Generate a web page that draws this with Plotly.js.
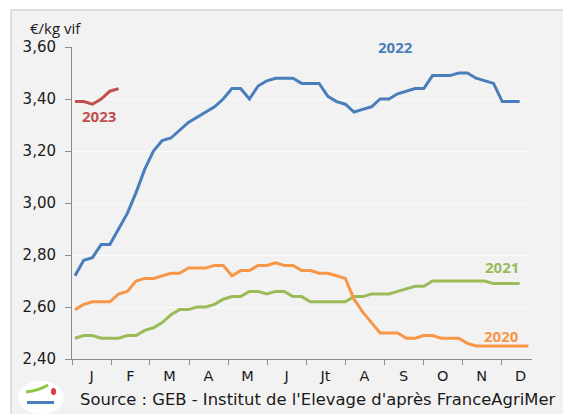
<!DOCTYPE html>
<html>
<head>
<meta charset="utf-8">
<script src="https://cdn.plot.ly/plotly-3.0.1.min.js"></script>
<style>html,body{margin:0;padding:0;background:#fff;}#chart{width:563px;height:414px;}</style>
</head>
<body>
<div id="chart"></div>
<script>
// Weekly live-weight prices (€/kg vif)
const s2020 = [2.59,2.61,2.62,2.62,2.62,2.65,2.66,2.70,2.71,2.71,
               2.72,2.73,2.73,2.75,2.75,2.75,2.76,2.76,2.72,2.74,
               2.74,2.76,2.76,2.77,2.76,2.76,2.74,2.74,2.73,2.73,
               2.72,2.71,2.63,2.58,2.54,2.50,2.50,2.50,2.48,2.48,
               2.49,2.49,2.48,2.48,2.48,2.46,2.45,2.45,2.45,2.45,
               2.45,2.45,2.45];
const s2021 = [2.48,2.49,2.49,2.48,2.48,2.48,2.49,2.49,2.51,2.52,
               2.54,2.57,2.59,2.59,2.60,2.60,2.61,2.63,2.64,2.64,
               2.66,2.66,2.65,2.66,2.66,2.64,2.64,2.62,2.62,2.62,
               2.62,2.62,2.64,2.64,2.65,2.65,2.65,2.66,2.67,2.68,
               2.68,2.70,2.70,2.70,2.70,2.70,2.70,2.70,2.69,2.69,
               2.69,2.69];
const s2022 = [2.72,2.78,2.79,2.84,2.84,2.90,2.96,3.04,3.13,3.20,
               3.24,3.25,3.28,3.31,3.33,3.35,3.37,3.40,3.44,3.44,
               3.40,3.45,3.47,3.48,3.48,3.48,3.46,3.46,3.46,3.41,
               3.39,3.38,3.35,3.36,3.37,3.40,3.40,3.42,3.43,3.44,
               3.44,3.49,3.49,3.49,3.50,3.50,3.48,3.47,3.46,3.39,
               3.39,3.39];
const s2023 = [3.39,3.39,3.38,3.40,3.43,3.44];

const monthLabels = ['J','F','M','A','M','J','Jt','A','S','O','N','D'];
const monthStarts = [0.66,5.13,9.60,14.08,18.55,23.02,27.50,31.97,36.45,40.92,45.40,49.87];
const monthWidth = 4.475;
const yTicks = [2.40,2.60,2.80,3.00,3.20,3.40,3.60];

const weeks = arr => arr.map((v,i)=>i+1);
const mk = (y,color,name) => ({x:weeks(y), y:y, type:'scatter', mode:'lines', name:name,
  line:{color:color,width:3}, hoverinfo:'skip'});

const C2020='#F79646', C2021='#9BBB59', C2022='#4A7EBB', C2023='#C0504D';
const traces = [mk(s2021,C2021,'2021'), mk(s2020,C2020,'2020'), mk(s2022,C2022,'2022'), mk(s2023,C2023,'2023')];

const FONT = 'DejaVu Sans, sans-serif';
const FONT2 = 'Open Sans, sans-serif';
const px = x => (x-72)/460, py = y => (359-y)/312;
const layout = {
  width:563, height:414,
  margin:{l:72, r:31, t:47, b:55, pad:0},
  paper_bgcolor:'#ffffff',
  plot_bgcolor:'rgba(0,0,0,0)',
  separators:', ',
  showlegend:false,
  font:{family:FONT, size:15, color:'#1a1a1a'},
  xaxis:{
    range:[0.656,53.41], showline:true, linecolor:'#8c8c8c', linewidth:1,
    tickvals: monthStarts.map(s=>s+monthWidth/2), ticktext: monthLabels,
    ticks:'', showgrid:false, zeroline:false, ticklabelstandoff:4,
    tickfont:{family:FONT,size:14.5,color:'#1a1a1a'},
    minor:{tickvals:monthStarts, ticks:'outside', ticklen:5, tickcolor:'#8c8c8c', tickwidth:1, showgrid:false}
  },
  yaxis:{
    range:[2.40,3.60], tickvals:yTicks, tickformat:'.2f',
    ticks:'outside', ticklen:6, tickcolor:'#8c8c8c', tickwidth:1,
    showline:true, linecolor:'#8c8c8c', linewidth:1,
    showgrid:true, gridcolor:'#fbfbfb', gridwidth:1, zeroline:false,
    ticklabelstandoff:6,
    tickfont:{family:FONT,size:15,color:'#1a1a1a'}
  },
  shapes:[
    {type:'rect', xref:'paper', yref:'paper', x0:px(11), x1:1.2, y0:-0.3, y1:py(10),
     fillcolor:'#f2f2f2', line:{color:'#d4d4d4', width:1.5}, layer:'below'},
    {type:'circle', xref:'paper', yref:'paper', x0:px(18), x1:px(64), y0:py(414), y1:py(381),
     fillcolor:'#ffffff', line:{width:0}, layer:'above'},
    {type:'path', xref:'paper', yref:'paper',
     path:'M '+px(26)+','+py(392)+' Q '+px(38)+','+py(391)+' '+px(48)+','+py(385),
     line:{color:'#8dc63f', width:3}, layer:'above'},
    {type:'circle', xref:'paper', yref:'paper', x0:px(51), x1:px(56), y0:py(395), y1:py(388),
     fillcolor:'#e03a3e', line:{width:0}, layer:'above'},
    {type:'rect', xref:'paper', yref:'paper', x0:px(27), x1:px(54), y0:py(404), y1:py(401),
     fillcolor:'#4a7ebb', line:{width:0}, layer:'above'}
  ],
  annotations:[
    {text:'€/kg vif', xref:'paper', yref:'paper', x:px(28), y:py(28), xanchor:'left', yanchor:'middle',
     showarrow:false, font:{family:FONT2,size:15,color:'#1a1a1a'}},
    {text:'<b>2022</b>', xref:'x', yref:'y', x:37.7, y:3.600, showarrow:false,
     font:{family:FONT2,size:15,color:C2022}},
    {text:'<b>2023</b>', xref:'x', yref:'y', x:3.75, y:3.335, showarrow:false,
     font:{family:FONT2,size:15,color:C2023}},
    {text:'<b>2021</b>', xref:'x', yref:'y', x:49.95, y:2.754, showarrow:false,
     font:{family:FONT2,size:15,color:C2021}},
    {text:'<b>2020</b>', xref:'x', yref:'y', x:49.95, y:2.488, showarrow:false,
     font:{family:FONT2,size:15,color:C2020}},
    {text:"Source : GEB - Institut de l'Elevage d'après FranceAgriMer", xref:'paper', yref:'paper',
     x:px(317), y:py(399), xanchor:'center', yanchor:'middle', showarrow:false,
     font:{family:FONT,size:16.4,color:'#1a1a1a'}}
  ]
};

Plotly.newPlot('chart', traces, layout, {staticPlot:true, displayModeBar:false});
</script>
</body>
</html>
